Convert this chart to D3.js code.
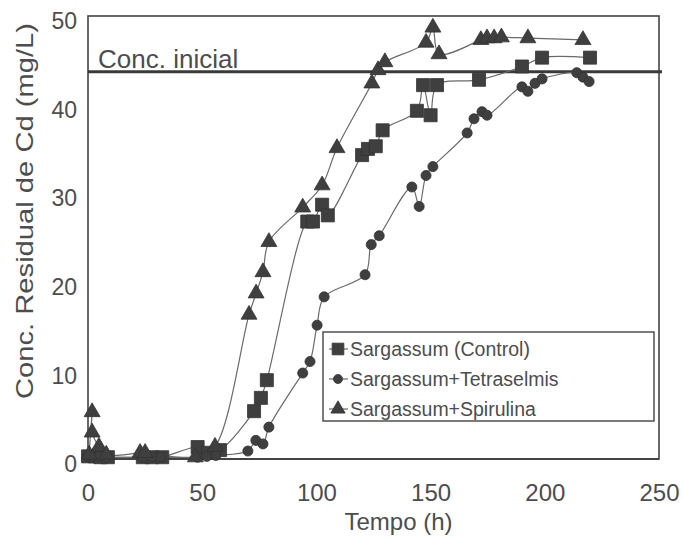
<!DOCTYPE html>
<html><head><meta charset="utf-8">
<script src="https://cdn.jsdelivr.net/npm/d3@7"></script>
<style>
body{margin:0;background:#fff}
svg{display:block}
text{font-family:"Liberation Sans",Arial,sans-serif;fill:#4d4d4d}
</style>
</head><body>
<svg id="chart" width="685" height="540"></svg>
<script>
// ---- data ----
const xTicks = [0, 50, 100, 150, 200, 250];
const yTicks = [0, 10, 20, 30, 40, 50];
const seriesNames = ["Sargassum (Control)", "Sargassum+Tetraselmis", "Sargassum+Spirulina"];
const initialConc = 43.7;
const initialLabel = "Conc. inicial";

const controlT = [0, 3, 5.5, 8.7, 24, 28, 32.5, 48, 52.5, 57.8, 72.7, 75.7, 78.3, 96, 98.5, 102.5, 105, 120, 122.6, 126, 129, 144, 146.7, 150, 152.8, 171.2, 190, 198.8, 219.8];
const controlV = [0.3, 0.3, 0.2, 0.2, 0.2, 0.2, 0.2, 1.35, 0.7, 1.0, 5.4, 6.9, 8.9, 26.8, 26.8, 28.7, 27.5, 34.3, 35.0, 35.3, 37.1, 39.3, 42.2, 38.8, 42.2, 42.8, 44.3, 45.3, 45.3];

const tetraT = [0, 2, 5, 8, 24, 28, 32, 48, 52, 56, 70, 73.5, 76.6, 79.2, 94, 97.2, 100.3, 103.4, 121.3, 124, 127.5, 141.8, 145, 148, 151, 166, 169, 172.5, 174.7, 190, 192.6, 195.7, 198.8, 214, 216.7, 219.4];
const tetraV = [0.3, 0.3, 0.3, 0.2, 0.2, 0.2, 0.2, 0.2, 0.3, 0.4, 0.9, 2.1, 1.7, 3.6, 9.7, 11.0, 15.1, 18.3, 20.8, 24.2, 25.2, 30.7, 28.5, 32.0, 33.0, 36.8, 38.4, 39.2, 38.8, 42.0, 41.5, 42.4, 42.9, 43.6, 43.1, 42.6];

const spirT = [0.5, 1.8, 1.8, 4.8, 8, 22.8, 25, 47, 55.6, 70.5, 73.6, 76.6, 79.2, 94, 102.5, 109, 124.3, 127, 130, 148, 151, 153.7, 172, 174.7, 177.8, 181, 192.6, 216.7];
const spirV = [0.5, 5.3, 3.0, 1.4, 0.5, 0.7, 0.7, 0.2, 1.4, 16.3, 18.7, 21.1, 24.5, 28.4, 30.9, 35.1, 42.4, 43.9, 44.8, 47.0, 48.7, 45.7, 47.3, 47.5, 47.5, 47.6, 47.5, 47.3];

// ---- chart ----
const svg = d3.select("#chart");
const x = d3.scaleLinear().domain([0, 250]).range([88, 659]);
const y = d3.scaleLinear().domain([0, 50]).range([459, 16]);

const series = [
  {name: seriesNames[0], t: controlT, v: controlV, sym: d3.symbolSquare, size: 170},
  {name: seriesNames[1], t: tetraT, v: tetraV, sym: d3.symbolCircle, size: 80},
  {name: seriesNames[2], t: spirT, v: spirV, sym: d3.symbolTriangle, size: 110}
];

// axes (labels only)
const gx = svg.append("g").attr("transform", "translate(0,459)")
  .call(d3.axisBottom(x).tickValues(xTicks).tickSize(0).tickPadding(25));
gx.select(".domain").remove();
gx.selectAll("text").attr("font-size", 24).attr("fill", "#4d4d4d")
  .attr("font-family", "Liberation Sans, Arial, sans-serif");

const gy = svg.append("g").attr("transform", "translate(88,0)")
  .call(d3.axisLeft(y).tickValues(yTicks).tickSize(0).tickPadding(11));
gy.select(".domain").remove();
gy.selectAll("text").attr("font-size", 23).attr("fill", "#4d4d4d").attr("dy", "0.55em")
  .attr("font-family", "Liberation Sans, Arial, sans-serif");

// axis titles
svg.append("text").attr("x", (x(0) + x(250)) / 2 + 25).attr("y", 530)
  .attr("text-anchor", "middle").attr("font-size", 24).text("Tempo (h)");
svg.append("text").attr("transform", "translate(33,211) rotate(-90)")
  .attr("text-anchor", "middle").attr("font-size", 24)
  .attr("textLength", 376).attr("lengthAdjust", "spacingAndGlyphs")
  .text("Conc. Residual de Cd (mg/L)");

// frame
svg.append("rect").attr("x", x(0)).attr("y", y(50))
  .attr("width", x(250) - x(0)).attr("height", y(0) - y(50))
  .attr("fill", "none").attr("stroke", "#444").attr("stroke-width", 1.6);
svg.append("line").attr("x1", x(0)).attr("x2", x(250)).attr("y1", y(0)).attr("y2", y(0))
  .attr("stroke", "#444").attr("stroke-width", 2);

// initial concentration line
svg.append("line").attr("x1", x(0)).attr("x2", x(250) + 3)
  .attr("y1", y(initialConc)).attr("y2", y(initialConc))
  .attr("stroke", "#3a3a3a").attr("stroke-width", 3);
svg.append("text").attr("x", x(0) + 10).attr("y", y(initialConc) - 4)
  .attr("font-size", 26).text(initialLabel);

// lines
const line = d3.line().curve(d3.curveCatmullRom.alpha(0.5));
series.forEach(s => {
  const pts = s.t.map((t, i) => [x(t), y(s.v[i])]);
  svg.append("path").attr("d", line(pts)).attr("fill", "none")
    .attr("stroke", "#6a6a6a").attr("stroke-width", 1.2);
});
// markers
series.forEach(s => {
  svg.append("g").selectAll("path").data(s.t.map((t, i) => [t, s.v[i]])).join("path")
    .attr("transform", d => `translate(${x(d[0])},${y(d[1])})`)
    .attr("d", d3.symbol().type(s.sym).size(s.size))
    .attr("fill", "#3f3f3f").attr("stroke", "#333").attr("stroke-width", 0.8);
});

// legend
const lg = svg.append("g");
lg.append("rect").attr("x", 323).attr("y", 332).attr("width", 331).attr("height", 89)
  .attr("fill", "#fff").attr("stroke", "#444").attr("stroke-width", 1.4);
series.forEach((s, i) => {
  const cy = 349 + i * 30;
  lg.append("line").attr("x1", 329).attr("x2", 348).attr("y1", cy).attr("y2", cy)
    .attr("stroke", "#6a6a6a").attr("stroke-width", 1.2);
  lg.append("path").attr("transform", `translate(338,${cy})`)
    .attr("d", d3.symbol().type(s.sym).size(s.size * 0.8))
    .attr("fill", "#3f3f3f").attr("stroke", "#333").attr("stroke-width", 0.8);
  lg.append("text").attr("x", 350).attr("y", cy).attr("dy", "0.36em")
    .attr("font-size", 19.5).text(s.name);
});
</script>
</body></html>
